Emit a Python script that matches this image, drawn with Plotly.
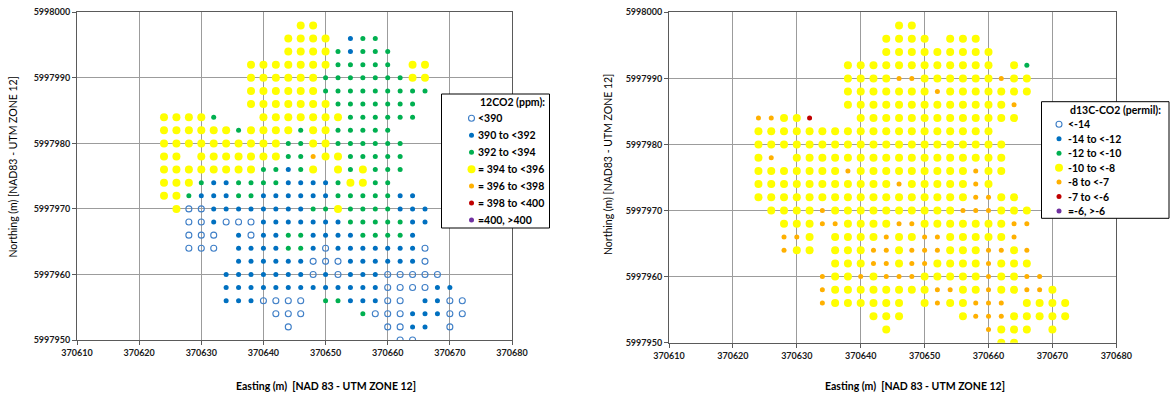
import plotly.graph_objects as go

W, H = 1174, 397

# Sampling grid (2 m spacing)
eastings = list(range(370624, 370674, 2))        # 25 columns, west -> east
northings = list(range(5997998, 5997948, -2))    # 25 rows, north -> south

# Class of each sample, one string per row (spaces only group columns by 5).
# o/b/g/y/a/r/p = the seven legend classes in order, '.' = not sampled
co2_grid = [
    "..... ..... .yy.. ..... .....",
    "..... ..... yyyy. bgg.. .....",
    "..... ..... yyyyg bggg. .....",
    "..... ..yyy yyyyg gggg. yy...",
    "..... ..yyy yyygg ggggg yy...",
    "..... ..yyy yyygg ggggg gg...",
    "..... ..yyy yyyyg ggggg g....",
    "yyyyg ...yy yyyyy ggggg g....",
    "yyyyy ygyyy ygyyg gggg. .....",
    "yyyyy yyyyy ggyyg ggggg .....",
    "yy.yy yyyyy ggayy ggggg .....",
    "yyyyy yyygg bgy.y gyggg .....",
    "yyygb bgggg bbbbg yygg. .....",
    "yygbb bggbb bbbbg ggggb b....",
    ".yoob bbbbb bbggy ggggb bb...",
    "..oob ooobb bbbbb ggggg bb...",
    "..ooo .bobb ggbbb bgggg b....",
    "..ooo .bbbb ggbob bbbbb bo...",
    "..... .bbbb bbooo bbbbb bo...",
    "..... bbbbb bbobo bbboo ooo..",
    "..... bbbbb bbbbb bbboo oobb.",
    "..... bbboo oo.gg bbboo .bboo",
    "..... ....o oo... .gooo bbboo",
    "..... ..... o.... ...oo bb.o.",
    "..... ..... ..... ....o o....",
]

d13c_grid = [
    "..... ..... .yy.. ..... .....",
    "..... ..... yyyy. yyy.. .....",
    "..... ..... yyyyy yyyy. .....",
    "..... ..yyy yyyyy yyyy. yg...",
    "..... ..yyy yaayy yyyya yy...",
    "..... ..yyy yyyya yyyyy yy...",
    "..... ..yyy yyyyy yyyyy a....",
    "aayyr ...yy yyyyy yyyyy y....",
    "yyyyy yyyyy yyyyy yyyy. .....",
    "yyyyy yyyyy yyyyy yyyyy .....",
    "ya.yy yyyyy yyyyy yyyyy .....",
    "yyyyy yyayy yyyyy yyayy .....",
    "yyyyy yyyyy yayyy yyay. .....",
    "yyyyy yyyyy yyyyy yyaay y....",
    ".yyyy ayyyy yyyyy yaaay yy...",
    "..yyy aayyy yaayy yyyyy aa...",
    "..aay .yyyy ayyaa yyyyy a....",
    "..ayy .yyya ayaaa yyyaa ya...",
    "..... .yyya ayaay yyyay yy...",
    "..... ayyay aaayy yyyay yaa..",
    "..... ayyyy yyyya ayyay yaay.",
    "..... ayyyy yy.ya yyaaa .yyyy",
    "..... ....y yy... .yaaa yyyyy",
    "..... ..... y.... ...ay yy.y.",
    "..... ..... ..... ....y y....",
]

class_codes = ["o", "b", "g", "y", "a", "r", "p"]
co2_labels = ["<390", "390 to <392", "392 to <394", "= 394 to <396",
              "= 396 to <398", "= 398 to <400", "=400, >400"]
d13c_labels = ["<-14", "-14 to <-12", "-12 to <-10", "-10 to <-8",
               "-8 to <-7", "-7 to <-6", "=-6, >-6"]

x_ticks = list(range(370610, 370690, 10))
y_ticks = list(range(5997950, 5998010, 10))

# ---- styling -------------------------------------------------------------
FONT = "Lato"
STYLE = {
    "o": dict(symbol="circle-open", size=6, color="#3F7FC7",
              line=dict(width=1.1, color="#3F7FC7")),
    "b": dict(symbol="circle", size=5, color="#0070C0", line=dict(width=0)),
    "g": dict(symbol="circle", size=5, color="#00B050", line=dict(width=0)),
    "y": dict(symbol="circle", size=8, color="#FFFF00", line=dict(width=0)),
    "a": dict(symbol="circle", size=5, color="#FFB000", line=dict(width=0)),
    "r": dict(symbol="circle", size=5, color="#C00000", line=dict(width=0)),
    "p": dict(symbol="circle", size=5, color="#7030A0", line=dict(width=0)),
}

# plot areas in pixels: (left, right), (top, bottom)
PANELS = [
    dict(xa="x", ya="y", xpx=(77, 512), ypx=(12.3, 340), grid=co2_grid),
    dict(xa="x2", ya="y2", xpx=(669, 1116.3), ypx=(12.3, 342.7), grid=d13c_grid),
]

LEGENDS = [
    dict(labels=co2_labels, title="12CO2 (ppm):", box=(441.5, 549.5, 94, 228),
         title_pos=(512, 101.5), mark_x=471.5, text_x=475.5, row0=118.3, step=16.95),
    dict(labels=d13c_labels, title="d13C-CO2 (permil):", box=(1041.5, 1169, 101.7, 218.3),
         title_pos=(1115, 110), mark_x=1059, text_x=1065.5, row0=124.3, step=14.45),
]

fig = go.Figure()

# ---- sample points ------------------------------------------------------
for panel in PANELS:
    rows = [r.replace(" ", "") for r in panel["grid"]]
    for code in class_codes:
        xs, ys = [], []
        for n, row in zip(northings, rows):
            for e, c in zip(eastings, row):
                if c == code:
                    xs.append(e)
                    ys.append(n)
        if xs:
            fig.add_trace(go.Scatter(
                x=xs, y=ys, mode="markers", marker=STYLE[code],
                xaxis=panel["xa"], yaxis=panel["ya"],
                showlegend=False, hoverinfo="x+y",
            ))

# ---- axes ---------------------------------------------------------------
common = dict(
    showgrid=True, gridcolor="#9c9c9c", gridwidth=1,
    showline=True, linecolor="#5a5a5a", linewidth=1, mirror=True,
    ticks="outside", ticklen=4, tickcolor="#5a5a5a", zeroline=False,
    tickformat="d", fixedrange=True, automargin=False,
    tickfont=dict(family=FONT, size=9, color="#1a1a1a", weight="bold"),
)
layout_axes = {}
for i, panel in enumerate(PANELS):
    sfx = "" if i == 0 else str(i + 1)
    (l, r), (t, b) = panel["xpx"], panel["ypx"]
    layout_axes["xaxis" + sfx] = dict(
        common, domain=[l / W, r / W], range=[x_ticks[0], x_ticks[-1]],
        tickvals=x_ticks, anchor=panel["ya"])
    layout_axes["yaxis" + sfx] = dict(
        common, domain=[1 - b / H, 1 - t / H], range=[y_ticks[0], y_ticks[-1]],
        tickvals=y_ticks, anchor=panel["xa"])

# overlay in pixel units for legends and titles
layout_axes["xaxis3"] = dict(domain=[0, 1], range=[0, W], visible=False,
                             fixedrange=True, automargin=False)
layout_axes["yaxis3"] = dict(domain=[0, 1], range=[H, 0], visible=False,
                             fixedrange=True, automargin=False)

annotations = []

# ---- legends ------------------------------------------------------------
for leg in LEGENDS:
    l, r, t, b = leg["box"]
    fig.add_trace(go.Scatter(
        x=[l, r, r, l, l], y=[t, t, b, b, t], mode="lines", fill="toself",
        fillcolor="white", line=dict(color="#000000", width=1),
        xaxis="x3", yaxis="y3", showlegend=False, hoverinfo="skip"))
    annotations.append(dict(
        x=leg["title_pos"][0], y=leg["title_pos"][1], xref="x3", yref="y3",
        text=leg["title"], showarrow=False, xanchor="center", yanchor="middle",
        font=dict(family=FONT, size=10.5, color="#000000", weight="bold")))
    for k, (code, label) in enumerate(zip(class_codes, leg["labels"])):
        yk = leg["row0"] + k * leg["step"]
        fig.add_trace(go.Scatter(
            x=[leg["mark_x"]], y=[yk], mode="markers", marker=STYLE[code],
            xaxis="x3", yaxis="y3", showlegend=False, hoverinfo="skip"))
        annotations.append(dict(
            x=leg["text_x"], y=yk, xref="x3", yref="y3", text=label,
            showarrow=False, xanchor="left", yanchor="middle",
            font=dict(family=FONT, size=10.5, color="#000000", weight="bold")))

# ---- axis titles --------------------------------------------------------
for cx in (325.7, 915):
    annotations.append(dict(
        x=cx, y=386, xref="x3", yref="y3", text="Easting (m)  [NAD 83 - UTM ZONE 12]",
        showarrow=False, xanchor="center", yanchor="middle",
        font=dict(family=FONT, size=10.5, color="#000000", weight="bold")))
for cx, cy in ((12, 167.5), (608, 165)):
    annotations.append(dict(
        x=cx, y=cy, xref="x3", yref="y3", text="Northing (m) [NAD83 - UTM ZONE 12]",
        showarrow=False, textangle=-90, xanchor="center", yanchor="middle",
        font=dict(family=FONT, size=10.5, color="#000000")))

fig.update_layout(
    template="none",
    width=W, height=H, autosize=False,
    margin=dict(l=0, r=0, t=0, b=0, pad=0),
    paper_bgcolor="white", plot_bgcolor="rgba(0,0,0,0)",
    showlegend=False, annotations=annotations,
    **layout_axes,
)

fig.write_html("out.html", config={"displayModeBar": False})
